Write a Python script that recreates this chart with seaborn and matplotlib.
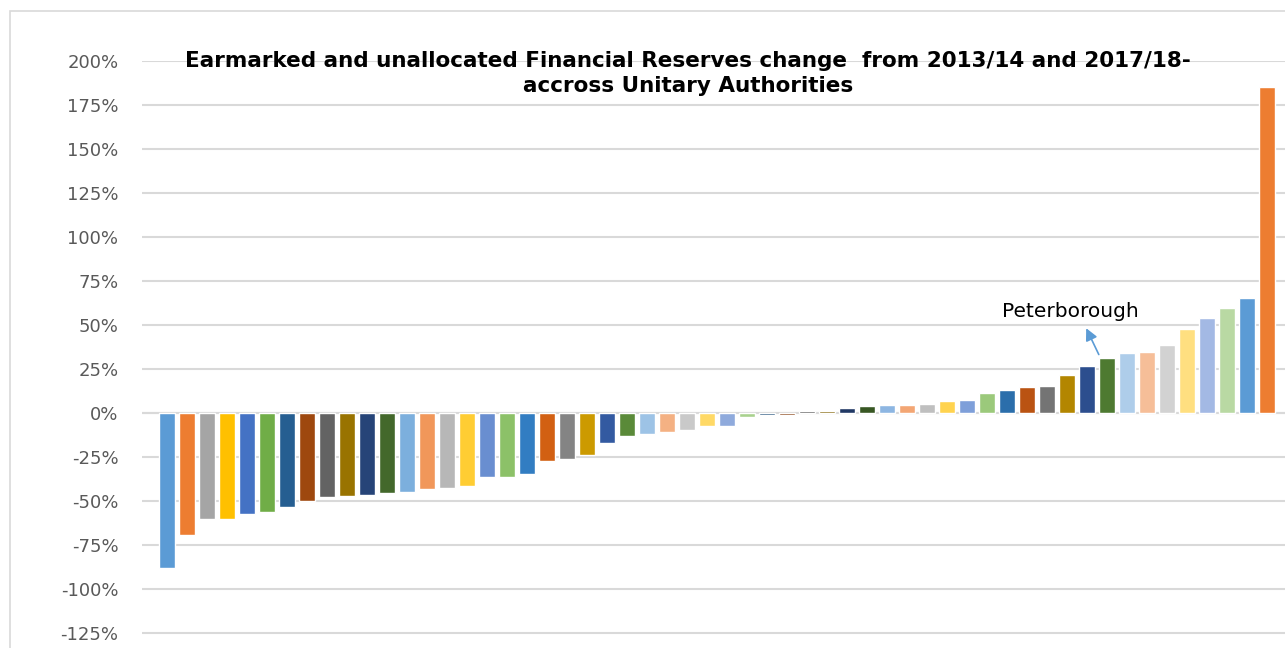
import numpy as np
import pandas as pd
import seaborn as sns
import matplotlib.pyplot as plt
from matplotlib.patches import Rectangle
from matplotlib.ticker import FuncFormatter

# percentage change in reserves, one bar per unitary authority (sorted)
change = [-87.9, -69.3, -60.2, -60.0, -57.4, -56.3, -53.4, -50.0, -47.7, -47.2,
          -46.6, -45.5, -44.9, -43.2, -42.6, -41.5, -36.4, -36.2, -34.7, -27.3,
          -26.1, -23.9, -17.0, -13.1, -11.9, -10.8, -9.7, -7.4, -7.2, -2.3,
          -1.1, -1.0, 1.1, 1.0, 2.7, 3.8, 4.3, 4.3, 4.9, 6.7,
          7.4, 11.4, 13.1, 14.8, 15.3, 21.6, 26.7, 31.3, 34.1, 34.7,
          38.7, 47.8, 54.0, 59.7, 65.4, 185.2]
authority = ["UA %d" % (i + 1) for i in range(len(change))]
highlight = "Peterborough"
highlight_idx = 47

# excel office palette, cycled with shades
colours = ["#5B9BD5", "#ED7D31", "#A5A5A5", "#FFC000", "#4472C4", "#70AD47",
           "#255E91", "#9E480E", "#636363", "#997300", "#264478", "#43682B",
           "#7CAFDD", "#F1975A", "#B7B7B7", "#FFCD33", "#698ED0", "#8CC168",
           "#327DC2", "#D26012", "#848484", "#CC9A00", "#335AA1", "#5A8A39",
           "#9DC3E6", "#F4B183", "#C9C9C9", "#FFD966", "#8FAADC", "#A9D18E",
           "#1F4E79", "#843C0C", "#525252", "#7F6000", "#203864", "#385723",
           "#8DB6E2", "#F3A674", "#BFBFBF", "#FFD34F", "#7E9FD9", "#9BC97B",
           "#2B6EAB", "#BA5312", "#747474", "#B38600", "#2C4E8E", "#4E7A31",
           "#AECDEA", "#F6BE98", "#D2D2D2", "#FFDF80", "#A3B9E4", "#B9D9A3",
           "#5B9BD5", "#ED7D31"]

df = pd.DataFrame({"authority": authority, "change": change})

sns.set_style("white")
plt.rcParams['font.family'] = ['DejaVu Sans']

fig = plt.figure(figsize=(12.85, 6.48), dpi=100)
# axes spans 142..1285 px wide, 61 (200%) .. 677 (-150%) px tall
ax = fig.add_axes([142 / 1285, 1 - 677 / 648, 1 - 142 / 1285, (677 - 61) / 648])

sns.barplot(data=df, x="authority", y="change", hue="authority",
            palette=colours, legend=False, width=0.8, saturation=1, ax=ax)

ax.set_ylim(-150, 200)
ax.set_xlim(-1.25, 55.9)
ax.set_yticks(np.arange(-125, 201, 25))
ax.yaxis.set_major_formatter(FuncFormatter(lambda v, p: "%d%%" % v))
ax.tick_params(axis="y", length=0, labelsize=13, labelcolor="#595959", pad=17)
ax.set_xticks([])
ax.set_xlabel("")
ax.set_ylabel("")
ax.grid(axis="y", color="#D9D9D9", linewidth=1.5)
ax.set_axisbelow(True)
for s in ax.spines.values():
    s.set_visible(False)
ax.axhline(0, color="#D9D9D9", linewidth=1.5, zorder=0.5)

# annotation for Peterborough
ax.annotate("", xy=(45.9, 49.6), xytext=(highlight_idx - 0.35, change[highlight_idx] + 0.5),
            arrowprops=dict(arrowstyle="-|>", color="#5B9BD5", lw=1.2, mutation_scale=18))
ax.text(45.15, 57.4, highlight, ha="center", va="center", fontsize=14.5,
        color="#000000")

fig.text(688 / 1285, 1 - 61 / 648,
         "Earmarked and unallocated Financial Reserves change  from 2013/14 and 2017/18-",
         ha="center", va="center", fontsize=15.5, fontweight="bold", color="#000000")
fig.text(688 / 1285, 1 - 86 / 648, "accross Unitary Authorities",
         ha="center", va="center", fontsize=15.5, fontweight="bold", color="#000000")

# chart area border
fig.patches.append(Rectangle((10 / 1285, -0.1), 1.2, 1 - 11 / 648 + 0.1,
                             transform=fig.transFigure, fill=False,
                             edgecolor="#D9D9D9", linewidth=1.2))

fig.savefig("out.png", dpi=100)
